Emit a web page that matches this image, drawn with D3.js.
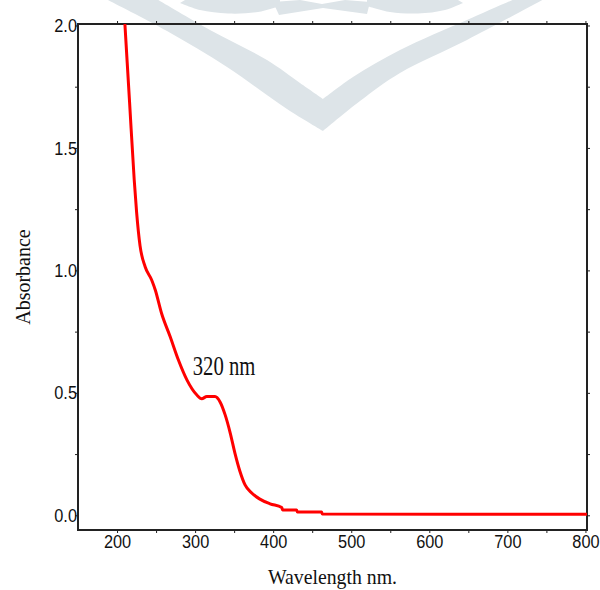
<!DOCTYPE html>
<html>
<head>
<meta charset="utf-8">
<script src="https://cdn.jsdelivr.net/npm/d3@7"></script>
<style>
  body { margin: 0; background: #fff; }
  svg { display: block; }
</style>
</head>
<body>
<svg id="chart"></svg>
<script>
// UV-Vis absorbance spectrum
const wavelength = [210, 216, 222, 225, 229.5, 236, 244.5, 249, 257, 268, 278.5, 289.5, 302, 308.5,
    315, 325.5, 332, 338.5, 345, 351, 357.5, 364, 372.5, 383, 396, 411, 412, 430, 431, 462, 463, 802];
const absorbance = [2.01, 1.69, 1.37, 1.24, 1.10, 1.015, 0.96, 0.92, 0.825, 0.73, 0.635, 0.553, 0.492, 0.476,
    0.485, 0.485, 0.463, 0.41, 0.336, 0.254, 0.179, 0.124, 0.091, 0.066, 0.047, 0.032, 0.022, 0.022, 0.013, 0.013, 0.005, 0.004];

const xTicks = [200, 250, 300, 350, 400, 450, 500, 550, 600, 650, 700, 750, 800];
const xLabels = [200, 300, 400, 500, 600, 700, 800];
const yTicks = [0, 0.25, 0.5, 0.75, 1.0, 1.25, 1.5, 1.75, 2.0];
const yLabels = [0, 0.5, 1.0, 1.5, 2.0];

const peakLabel = "320 nm";

const width = 600;
const height = 590;
const marginLeft = 78, marginRight = 13, marginTop = 24, marginBottom = 60;

const svg = d3.select('#chart')
    .attr('width', width)
    .attr('height', height)
    .attr('viewBox', `0 0 ${width} ${height}`);

const x = d3.scaleLinear()
    .domain([150, 802])
    .range([marginLeft, width - marginRight]);

const y = d3.scaleLinear()
    .domain([-0.06, 2.006])
    .range([height - marginBottom, marginTop]);

// faint watermark in the background
const wm = svg.append("g").attr("fill", "#dde4e8");
const smooth = d3.line().curve(d3.curveCatmullRom);
wm.append("path").attr("d",
    smooth([[104, -2], [167, 31], [227, 67], [287, 109], [323, 131]]) +
    smooth([[323, 131], [360, 101], [400, 73], [467, 40], [546, -2]]).replace("M", "L") +
    smooth([[517, -2], [467, 20], [400, 50], [353, 77], [323, 99]]).replace("M", "L") +
    smooth([[323, 99], [300, 83], [267, 60], [210, 30], [155, -2]]).replace("M", "L") + "Z");
wm.append("path").attr("d",
    smooth([[180, 3], [200, 10], [228, 13.5], [258, 12], [280, 6]]) + "L280,0L185,0Z");
wm.append("path").attr("d",
    smooth([[367, 6], [390, 12], [418, 13.5], [445, 10], [463, 3]]) + "L458,0L367,0Z");
wm.append("path").attr("d", "M273,2L300,0L322,4L345,0L370,2L367,14L323,8L279,15Z");

// axes (ticks outward, labels every other tick)
function styleAxis(g) {
    g.select(".domain").remove();
    g.selectAll(".tick line").attr("stroke", "#222").attr("stroke-width", 1);
}

svg.append("g")
    .attr("transform", `translate(0,${height - marginBottom})`)
    .call(d3.axisBottom(x).tickValues(xTicks).tickSize(3).tickPadding(2)
        .tickFormat(d => xLabels.includes(d) ? d : ""))
    .call(styleAxis)
    .call(g => g.selectAll(".tick text")
        .attr("font-family", "'Liberation Sans', Arial, sans-serif")
        .attr("font-size", 19)
        .attr("fill", "#111")
        .attr("y", 0).attr("dy", null)
        .attr("transform", "translate(0,18) scale(0.86,1)"));

svg.append("g")
    .attr("transform", `translate(0,${marginTop})`)
    .call(d3.axisTop(x).tickValues(xTicks).tickSize(3).tickFormat(""))
    .call(styleAxis);

svg.append("g")
    .attr("transform", `translate(${marginLeft},0)`)
    .call(d3.axisLeft(y).tickValues(yTicks).tickSize(3).tickPadding(0)
        .tickFormat(d => yLabels.includes(d) ? d3.format(".1f")(d) : ""))
    .call(styleAxis)
    .call(g => g.selectAll(".tick text")
        .attr("font-family", "'Liberation Sans', Arial, sans-serif")
        .attr("font-size", 19)
        .attr("fill", "#111")
        .attr("x", 0)
        .attr("transform", "translate(-1,0) scale(0.86,1)"));

svg.append("g")
    .attr("transform", `translate(${width - marginRight},0)`)
    .call(d3.axisRight(y).tickValues(yTicks).tickSize(3).tickFormat(""))
    .call(styleAxis);

// frame
svg.append("rect")
    .attr("x", marginLeft)
    .attr("y", marginTop)
    .attr("width", width - marginLeft - marginRight)
    .attr("height", height - marginTop - marginBottom)
    .attr("fill", "none")
    .attr("stroke", "#222")
    .attr("stroke-width", 2);

// spectrum
svg.append("clipPath").attr("id", "plot-clip")
    .append("rect")
    .attr("x", marginLeft).attr("y", marginTop)
    .attr("width", width - marginLeft - marginRight)
    .attr("height", height - marginTop - marginBottom);

const points = wavelength.map((w, i) => [w, absorbance[i]]);
const line = d3.line()
    .curve(d3.curveMonotoneX)
    .x(d => x(d[0]))
    .y(d => y(d[1]));

svg.append("path")
    .datum(points)
    .attr("clip-path", "url(#plot-clip)")
    .attr("fill", "none")
    .attr("stroke", "#ff0000")
    .attr("stroke-width", 3)
    .attr("stroke-linejoin", "round")
    .attr("d", line);

// peak annotation
svg.append("text")
    .attr("transform", `translate(${x(297)},${y(0.572)}) scale(0.74,1)`)
    .attr("font-family", "'Liberation Serif', 'Times New Roman', serif")
    .attr("font-size", 28)
    .attr("fill", "#111")
    .text(peakLabel);

// axis titles
svg.append("text")
    .attr("transform", `translate(${(marginLeft + width - marginRight) / 2},584) scale(0.9,1)`)
    .attr("text-anchor", "middle")
    .attr("font-family", "'Liberation Serif', 'Times New Roman', serif")
    .attr("font-size", 22)
    .attr("fill", "#111")
    .text("Wavelength nm.");

svg.append("text")
    .attr("transform", "translate(30,277) rotate(-90)")
    .attr("text-anchor", "middle")
    .attr("font-family", "'Liberation Serif', 'Times New Roman', serif")
    .attr("font-size", 20)
    .attr("fill", "#111")
    .text("Absorbance");
</script>
</body>
</html>
